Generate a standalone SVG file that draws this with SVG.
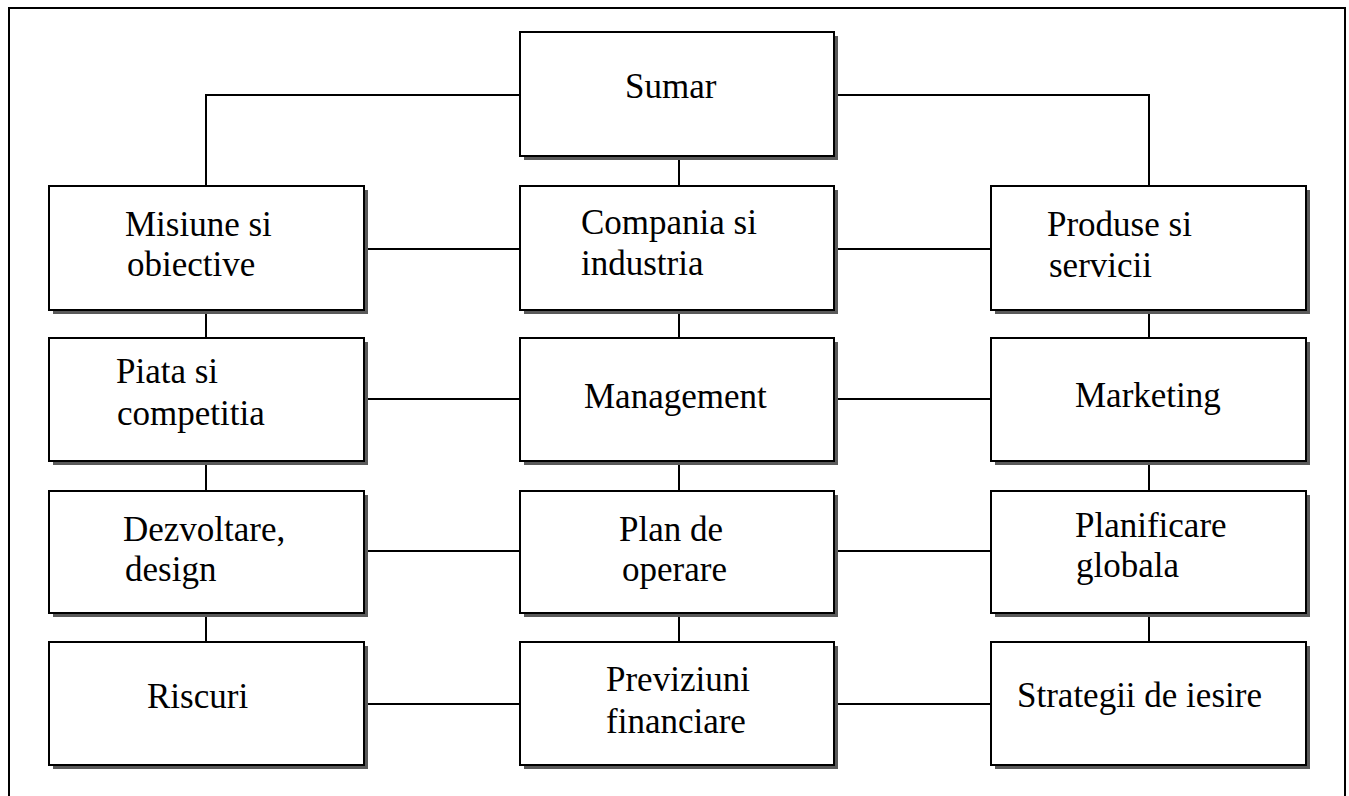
<svg xmlns="http://www.w3.org/2000/svg" width="1349" height="796" viewBox="0 0 1349 796">
<style>
.shadow{fill:#5a5a5a;}
.box{fill:#ffffff;stroke:#000;stroke-width:2;}
.lbl{font-family:"Liberation Serif","Times New Roman",serif;font-size:35px;fill:#000;}
.conn{fill:none;stroke:#000;stroke-width:2;}
</style>
<rect x="0" y="0" width="1349" height="796" fill="#fff"/>
<rect x="9" y="8" width="1336" height="800" fill="none" stroke="#000" stroke-width="2"/>
<g id="connectors">
<path class="conn" d="M520 95 H206 V186"/>
<path class="conn" d="M834 95 H1149 V186"/>
<path class="conn" d="M679 156 V186"/>
<path class="conn" d="M206 310 V338 M206 461 V491 M206 613 V642"/>
<path class="conn" d="M679 310 V338 M679 461 V491 M679 613 V642"/>
<path class="conn" d="M1149 310 V338 M1149 461 V491 M1149 613 V642"/>
<path class="conn" d="M364 249 H520 M834 249 H991"/>
<path class="conn" d="M364 399 H520 M834 399 H991"/>
<path class="conn" d="M364 551 H520 M834 551 H991"/>
<path class="conn" d="M364 704 H520 M834 704 H991"/>
</g>
<g id="sumar"><rect class="shadow" x="524" y="36" width="314" height="124"/><rect class="box" x="520" y="32" width="314" height="124"/><text class="lbl" x="625" y="98">Sumar</text></g>
<g id="misiune"><rect class="shadow" x="53" y="190" width="315" height="124"/><rect class="box" x="49" y="186" width="315" height="124"/><text class="lbl" x="125" y="236">Misiune si</text><text class="lbl" x="127" y="276">obiective</text></g>
<g id="compania"><rect class="shadow" x="524" y="190" width="314" height="124"/><rect class="box" x="520" y="186" width="314" height="124"/><text class="lbl" x="581" y="234">Compania si</text><text class="lbl" x="581" y="275">industria</text></g>
<g id="produse"><rect class="shadow" x="995" y="190" width="315" height="124"/><rect class="box" x="991" y="186" width="315" height="124"/><text class="lbl" x="1047" y="236">Produse si</text><text class="lbl" x="1049" y="277">servicii</text></g>
<g id="piata"><rect class="shadow" x="53" y="342" width="315" height="123"/><rect class="box" x="49" y="338" width="315" height="123"/><text class="lbl" x="116" y="383">Piata si</text><text class="lbl" x="117" y="425">competitia</text></g>
<g id="management"><rect class="shadow" x="524" y="342" width="314" height="123"/><rect class="box" x="520" y="338" width="314" height="123"/><text class="lbl" x="584" y="408">Management</text></g>
<g id="marketing"><rect class="shadow" x="995" y="342" width="315" height="123"/><rect class="box" x="991" y="338" width="315" height="123"/><text class="lbl" x="1075" y="407">Marketing</text></g>
<g id="dezvoltare"><rect class="shadow" x="53" y="495" width="315" height="122"/><rect class="box" x="49" y="491" width="315" height="122"/><text class="lbl" x="123" y="541">Dezvoltare,</text><text class="lbl" x="125" y="581">design</text></g>
<g id="plan"><rect class="shadow" x="524" y="495" width="314" height="122"/><rect class="box" x="520" y="491" width="314" height="122"/><text class="lbl" x="619" y="541">Plan de</text><text class="lbl" x="622" y="581">operare</text></g>
<g id="planificare"><rect class="shadow" x="995" y="495" width="315" height="122"/><rect class="box" x="991" y="491" width="315" height="122"/><text class="lbl" x="1075" y="537">Planificare</text><text class="lbl" x="1076" y="577">globala</text></g>
<g id="riscuri"><rect class="shadow" x="53" y="646" width="315" height="123"/><rect class="box" x="49" y="642" width="315" height="123"/><text class="lbl" x="147" y="708">Riscuri</text></g>
<g id="previziuni"><rect class="shadow" x="524" y="646" width="314" height="123"/><rect class="box" x="520" y="642" width="314" height="123"/><text class="lbl" x="606" y="691">Previziuni</text><text class="lbl" x="606" y="733">financiare</text></g>
<g id="strategii"><rect class="shadow" x="995" y="646" width="315" height="123"/><rect class="box" x="991" y="642" width="315" height="123"/><text class="lbl" x="1017" y="707">Strategii de iesire</text></g>
</svg>
